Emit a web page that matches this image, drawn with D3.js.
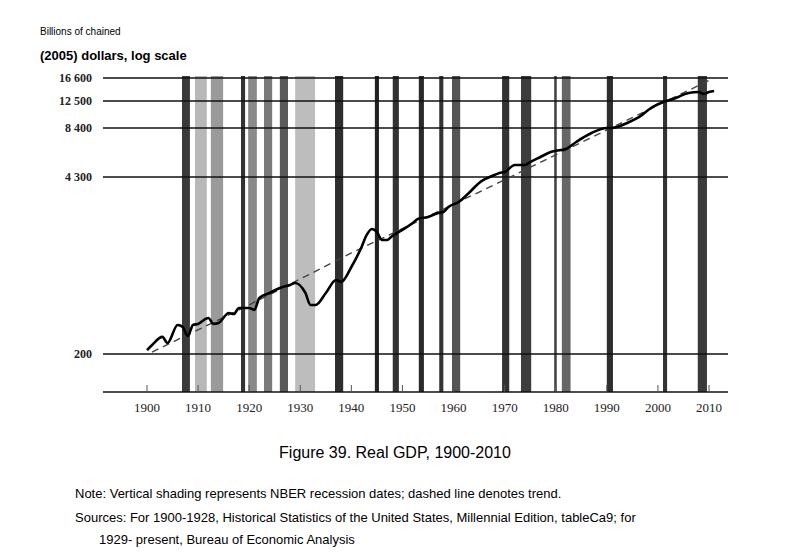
<!DOCTYPE html>
<html><head><meta charset="utf-8">
<script src="https://cdn.jsdelivr.net/npm/d3@7"></script>
<style>body{margin:0;background:#fff}</style></head>
<body><svg id="c" width="796" height="558"></svg>
<script>
const years=[1900,1901,1903,1904,1906,1907,1908,1909,1910,1912,1913,1914,1916,1917,1918,1920,1921,1922,1924,1926,1928,1929,1931,1932,1933,1935,1937,1938,1940,1942,1943,1944,1945,1946,1947,1948,1950,1952,1953,1955,1957,1958,1959,1961,1963,1965,1968,1969,1970,1972,1974,1975,1977,1979,1981,1982,1984,1987,1990,1991,1994,1996,1999,2001,2003,2006,2008,2009,2010,2011];
const gdp=[214,234,269,242,331,319,273,331,337,373,337,342,407,400,444,444,429,528,576,628,662,685,576,468,468,576,721,697,904,1279,1574,1746,1658,1443,1443,1548,1718,1938,2078,2150,2306,2346,2558,2790,3260,3882,4420,4542,4605,5066,5066,5277,5650,6050,6218,6304,6940,7843,8400,8400,9047,9736,11450,12330,12810,13800,13960,13630,13960,14130];
const trendYears=[1901,1920,1940,1970,1990,2011];
const trendValues=[207,468,1152,4092,8175,16600];
const recStart=[1906.85,1909.4,1912.5,1918.4,1919.8,1922.9,1926,1929,1936.8,1944.6,1948.1,1953.2,1957.2,1959.7,1969.5,1973.2,1979.7,1981.2,1990,2001,2007.8];
const recEnd=[1908.4,1911.7,1914.9,1919.2,1921.5,1924.5,1927.6,1932.9,1938.4,1945.4,1949.3,1954.2,1958,1961.3,1970.9,1975.2,1980.2,1982.9,1991.2,2001.8,2009.6];
const recShade=["#3a3a3a","#b8b8b8","#9a9a9a","#333","#8a8a8a","#7a7a7a","#5a5a5a","#bdbdbd","#2e2e2e","#222","#333","#2a2a2a","#333","#555","#333","#3d3d3d","#444","#666","#2e2e2e","#333","#3a3a3a"];
const yTicks=[200,4300,8400,12500,16600];
const xTicks=[1900,1910,1920,1930,1940,1950,1960,1970,1980,1990,2000,2010];

const svg=d3.select("#c");
const x=d3.scaleLinear().domain([1900,2010]).range([147,709]);
const y=d3.scaleLog().domain([200,4300,8400,12500,16600]).range([354,177,128,101,78]);
const L=103,R=728,T=76,B=392;

svg.append("g").selectAll("rect").data(recStart).join("rect")
 .attr("x",(d)=>x(d)).attr("width",(d,i)=>x(recEnd[i])-x(d))
 .attr("y",T).attr("height",B-T).attr("fill",(d,i)=>recShade[i]);

svg.append("g").selectAll("line").data(yTicks).join("line")
 .attr("x1",L).attr("x2",R).attr("y1",d=>y(d)).attr("y2",d=>y(d))
 .attr("stroke","#111").attr("stroke-width",1.4);
svg.append("line").attr("x1",L).attr("x2",R).attr("y1",B).attr("y2",B).attr("stroke","#111").attr("stroke-width",1.4);
svg.append("g").selectAll("line").data(xTicks).join("line")
 .attr("x1",d=>x(d)).attr("x2",d=>x(d)).attr("y1",B-7).attr("y2",B).attr("stroke","#555").attr("stroke-width",1);

svg.append("g").selectAll("text").data(yTicks).join("text")
 .attr("x",92).attr("y",d=>y(d)+4).attr("text-anchor","end")
 .attr("font-family","Liberation Serif").attr("font-weight","bold").attr("font-size",12).attr("fill","#222")
 .text(d=>d3.format(",")(d).replace(","," "));
svg.append("g").selectAll("text").data(xTicks).join("text")
 .attr("x",d=>x(d)).attr("y",412).attr("text-anchor","middle")
 .attr("font-family","Liberation Serif").attr("font-size",13).attr("fill","#222").text(d=>d);

svg.append("path").datum(trendYears.map((d,i)=>[d,trendValues[i]]))
 .attr("d",d3.line().x(d=>x(d[0])).y(d=>y(d[1])))
 .attr("fill","none").attr("stroke","#444").attr("stroke-width",1.4).attr("stroke-dasharray","7,5");
svg.append("path").datum(years.map((d,i)=>[d,gdp[i]]))
 .attr("d",d3.line().x(d=>x(d[0])).y(d=>y(d[1])).curve(d3.curveMonotoneX))
 .attr("fill","none").attr("stroke","#000").attr("stroke-width",2.6).attr("stroke-linejoin","round");

const t=(xx,yy,s,txt,o={})=>svg.append("text").attr("x",xx).attr("y",yy).attr("font-family","Liberation Sans, Arial").attr("font-size",s).attr("font-weight",o.w||"normal").attr("text-anchor",o.a||"start").attr("fill","#000").text(txt);
t(40,35,10,"Billions of chained");
t(40,60,13,"(2005) dollars, log scale",{w:"bold"});
t(395,458,16,"Figure 39. Real GDP, 1900-2010",{a:"middle"});
t(75,498,13,"Note: Vertical shading represents NBER recession dates; dashed line denotes trend.");
t(75,522,13,"Sources: For 1900-1928, Historical Statistics of the United States, Millennial Edition, tableCa9; for");
t(99,544,13,"1929- present, Bureau of Economic Analysis");
</script></body></html>
